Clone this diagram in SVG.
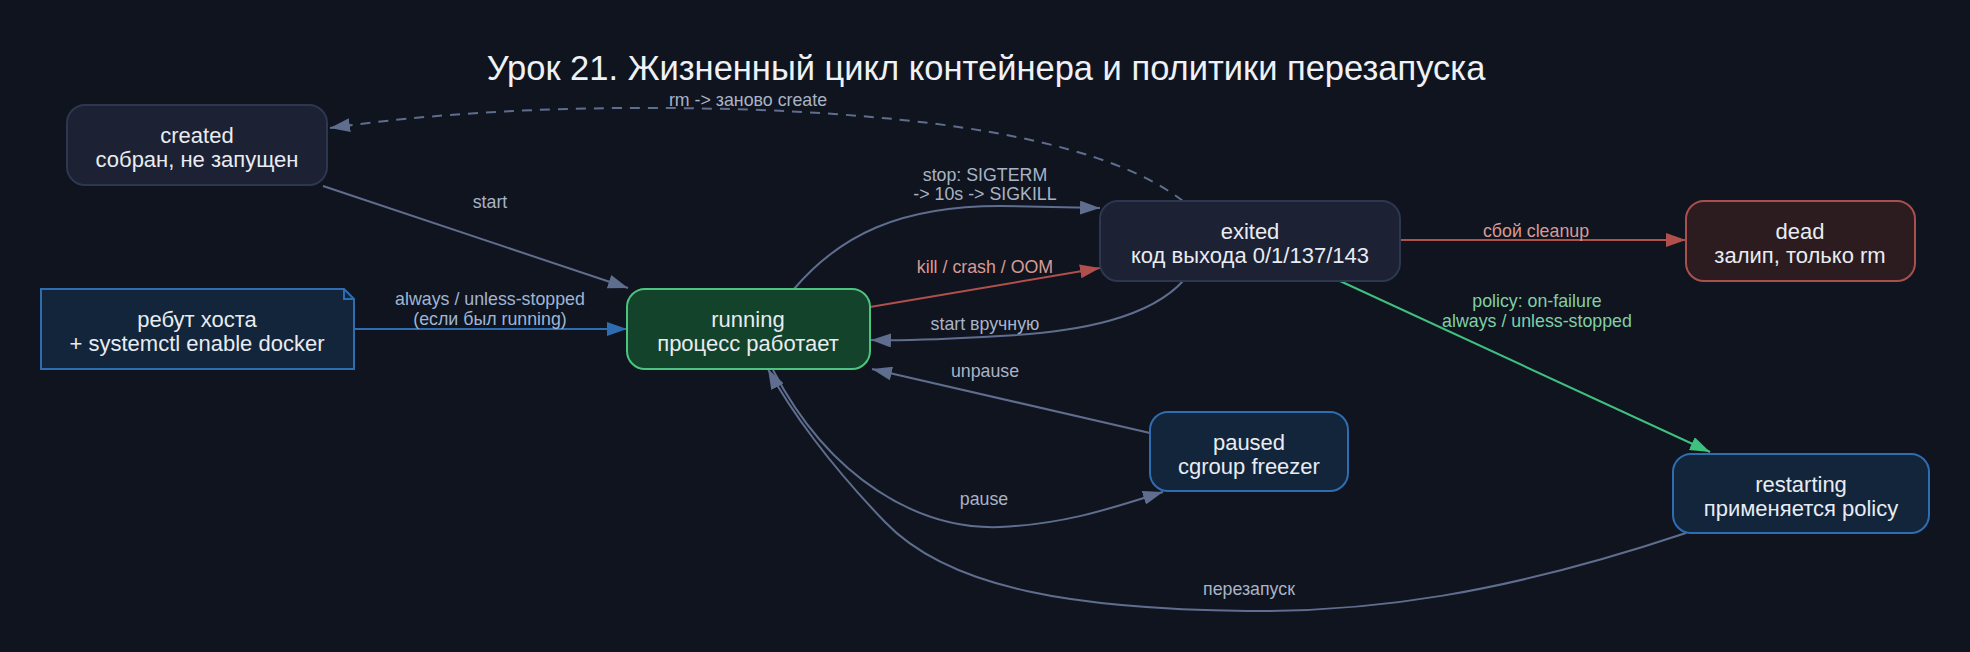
<svg xmlns="http://www.w3.org/2000/svg" width="1970" height="652" viewBox="0 0 1970 652">
<defs>
<style>
.bg{fill:#10141f}
.title{font-family:"Liberation Sans",Arial,sans-serif;font-size:34.5px;fill:#eef1f6;text-anchor:middle}
.nt{font-family:"Liberation Sans",Arial,sans-serif;font-size:22px;fill:#e8ecf2;text-anchor:middle}
.el{font-family:"Liberation Sans",Arial,sans-serif;font-size:17.8px;text-anchor:middle}
.gray{fill:none;stroke:#5f6e8f;stroke-width:2}
.red{fill:none;stroke:#b0504c;stroke-width:2}
.green{fill:none;stroke:#3ec07f;stroke-width:2}
.blue{fill:none;stroke:#2f6db2;stroke-width:2}
.lg{fill:#a9b3c6}
.lr{fill:#d89a94}
.lgr{fill:#80d0a5}
.lb{fill:#9fb6d6}
.n-dark{fill:#1c2133;stroke:#2d3850;stroke-width:2}
.n-run{fill:#14432b;stroke:#4cc47f;stroke-width:2}
.n-blue{fill:#13253a;stroke:#2f6db2;stroke-width:2}
.n-dead{fill:#2c1c1f;stroke:#a8504e;stroke-width:2}
</style>
<marker id="ag" markerUnits="userSpaceOnUse" markerWidth="20" markerHeight="14" viewBox="0 0 20 14" refX="20" refY="7" orient="auto"><path d="M0,0 L20,7 L0,14 z" fill="#5f6e8f"/></marker>
<marker id="ar" markerUnits="userSpaceOnUse" markerWidth="20" markerHeight="14" viewBox="0 0 20 14" refX="20" refY="7" orient="auto"><path d="M0,0 L20,7 L0,14 z" fill="#b0504c"/></marker>
<marker id="agr" markerUnits="userSpaceOnUse" markerWidth="20" markerHeight="14" viewBox="0 0 20 14" refX="20" refY="7" orient="auto"><path d="M0,0 L20,7 L0,14 z" fill="#3ec07f"/></marker>
<marker id="ab" markerUnits="userSpaceOnUse" markerWidth="20" markerHeight="14" viewBox="0 0 20 14" refX="20" refY="7" orient="auto"><path d="M0,0 L20,7 L0,14 z" fill="#2f6db2"/></marker>
</defs>
<rect class="bg" x="0" y="0" width="1970" height="652"/>
<text class="title" x="986" y="80">Урок 21. Жизненный цикл контейнера и политики перезапуска</text>

<g id="connectors">
<g id="e-start"><path class="gray" d="M323,186 L628,288" marker-end="url(#ag)"/><text class="el lg" x="490" y="208">start</text></g>
<g id="e-reboot"><path class="blue" d="M354,329 L627,329" marker-end="url(#ab)"/><text class="el lb" x="490" y="305">always / unless-stopped</text><text class="el lb" x="490" y="325">(если был running)</text></g>
<g id="e-stop"><path class="gray" d="M794,289 C840,235 900,206 1000,206 L1100,208" marker-end="url(#ag)"/><text class="el lg" x="985" y="181">stop: SIGTERM</text><text class="el lg" x="985" y="200">-&gt; 10s -&gt; SIGKILL</text></g>
<g id="e-kill"><path class="red" d="M870,307 L1100,268" marker-end="url(#ar)"/><text class="el lr" x="985" y="273">kill / crash / OOM</text></g>
<g id="e-manual"><path class="gray" d="M1184,280 C1150,318 1080,332 1000,336 C950,339 910,341 871,340" marker-end="url(#ag)"/><text class="el lg" x="985" y="330">start вручную</text></g>
<g id="e-cleanup"><path class="red" d="M1400,240 L1686,240" marker-end="url(#ar)"/><text class="el lr" x="1536" y="237">сбой cleanup</text></g>
<g id="e-policy"><path class="green" d="M1340,281 L1710,452" marker-end="url(#agr)"/><text class="el lgr" x="1537" y="307">policy: on-failure</text><text class="el lgr" x="1537" y="327">always / unless-stopped</text></g>
<g id="e-unpause"><path class="gray" d="M1150,433 L872,369" marker-end="url(#ag)"/><text class="el lg" x="985" y="377">unpause</text></g>
<g id="e-pause"><path class="gray" d="M773,370 C830,480 920,530 1000,527 C1070,524 1120,505 1163,492" marker-end="url(#ag)"/><text class="el lg" x="984" y="505">pause</text></g>
<g id="e-restart"><path class="gray" d="M1686,533 C1500,595 1370,612 1247,611 C1080,609 950,590 885,522 C830,465 790,410 768,369" marker-end="url(#ag)"/><text class="el lg" x="1249" y="595">перезапуск</text></g>
<g id="e-rm"><path class="gray" d="M1183,201 C1110,145 960,118 760,110 C560,103 420,115 330,128" stroke-dasharray="10,8" marker-end="url(#ag)"/><text class="el lg" x="748" y="106">rm -&gt; заново create</text></g>
</g>

<g id="created"><rect class="n-dark" x="67" y="105" width="260" height="80" rx="18"/><text class="nt" x="197" y="143">created</text><text class="nt" x="197" y="167">собран, не запущен</text></g>
<g id="reboot"><path class="n-blue" d="M41,289 L344,289 L354,299 L354,369 L41,369 Z"/><path d="M344,289 L344,299 L354,299" fill="none" stroke="#2f6db2" stroke-width="2"/><text class="nt" x="197" y="327">ребут хоста</text><text class="nt" x="197" y="351">+ systemctl enable docker</text></g>
<g id="running"><rect class="n-run" x="627" y="289" width="243" height="80" rx="18"/><text class="nt" x="748" y="327">running</text><text class="nt" x="748" y="351">процесс работает</text></g>
<g id="exited"><rect class="n-dark" x="1100" y="201" width="300" height="80" rx="18"/><text class="nt" x="1250" y="239">exited</text><text class="nt" x="1250" y="263">код выхода 0/1/137/143</text></g>
<g id="dead"><rect class="n-dead" x="1686" y="201" width="229" height="80" rx="18"/><text class="nt" x="1800" y="239">dead</text><text class="nt" x="1800" y="263">залип, только rm</text></g>
<g id="paused"><rect class="n-blue" x="1150" y="412" width="198" height="79" rx="18"/><text class="nt" x="1249" y="450">paused</text><text class="nt" x="1249" y="474">cgroup freezer</text></g>
<g id="restarting"><rect class="n-blue" x="1673" y="454" width="256" height="79" rx="18"/><text class="nt" x="1801" y="492">restarting</text><text class="nt" x="1801" y="516">применяется policy</text></g>
</svg>
